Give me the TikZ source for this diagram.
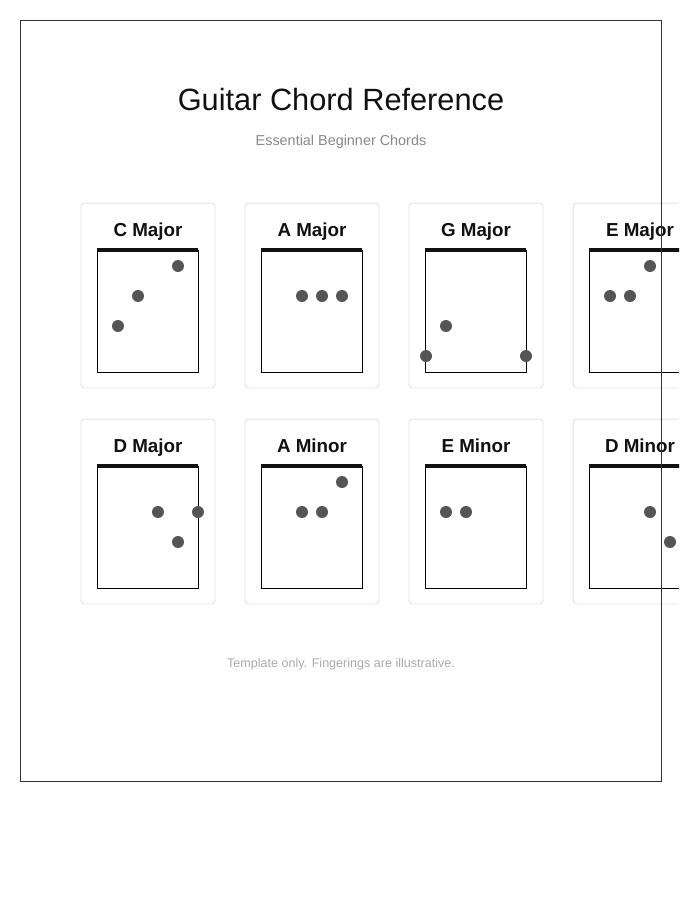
\documentclass[tikz,border=0pt]{standalone}
\usepackage{fontspec}
\setmainfont{Liberation Sans}
\usepackage{xcolor}
\usepackage{tikz}
\usetikzlibrary{shapes,arrows.meta,positioning,calc}

\definecolor{inkdark}{HTML}{111111}
\definecolor{subgray}{HTML}{888888}
\definecolor{footgray}{HTML}{AAAAAA}
\definecolor{cardline}{HTML}{E3E3E3}
\definecolor{dotgray}{HTML}{555555}
\definecolor{framegray}{HTML}{333333}

\begin{document}
\begin{tikzpicture}[
    x=0.02cm, y=-0.02cm,
    pagetitle/.style={anchor=base, text=inkdark, font=\fontsize{17.5}{20}\selectfont},
    subtitle/.style={anchor=base, text=subgray, font=\fontsize{8.2}{10}\selectfont},
    footnote/.style={anchor=base, text=footgray, font=\fontsize{7.15}{9}\selectfont},
    card/.style={rectangle, draw=cardline, fill=white, line width=0.55pt, rounded corners=2pt, minimum width=2.68cm, minimum height=3.7cm, inner sep=0pt, outer sep=0pt},
    chordname/.style={anchor=base, text=inkdark, font=\fontsize{10.7}{12}\selectfont\bfseries},
    board/.style={rectangle, draw=black, fill=white, line width=0.5pt, minimum width=2.02cm, minimum height=2.44cm, inner sep=0pt, outer sep=0pt},
    nut/.style={draw=inkdark, line width=2.3pt},
    dot/.style={circle, fill=dotgray, minimum size=0.24cm, inner sep=0pt}
]
    \useasboundingbox (0,0) rectangle (700,900);
    \clip (0,0) rectangle (679,900);

    \node [pagetitle] (title) at (341,110.5) {Guitar Chord Reference};
    \node [subtitle] (sub) at (341,145) {Essential Beginner Chords};

    % first row
    \node [card] (cmaj) at (148,295.5) {};
    \node [card] (amaj) at (312,295.5) {};
    \node [card] (gmaj) at (476,295.5) {};
    \node [card] (emaj) at (640,295.5) {};
    \node [chordname] (cmaj-name) at (148,236) {C Major};
    \node [chordname] (amaj-name) at (312,236) {A Major};
    \node [chordname] (gmaj-name) at (476,236) {G Major};
    \node [chordname] (emaj-name) at (640,236) {E Major};
    \node [board] (cmaj-board) at (147.5,311) {};
    \node [board] (amaj-board) at (311.5,311) {};
    \node [board] (gmaj-board) at (475.5,311) {};
    \node [board] (emaj-board) at (639.5,311) {};

    % second row
    \node [card] (dmaj) at (148,511.5) {};
    \node [card] (amin) at (312,511.5) {};
    \node [card] (emin) at (476,511.5) {};
    \node [card] (dmin) at (640,511.5) {};
    \node [chordname] (dmaj-name) at (148,452) {D Major};
    \node [chordname] (amin-name) at (312,452) {A Minor};
    \node [chordname] (emin-name) at (476,452) {E Minor};
    \node [chordname] (dmin-name) at (640,452) {D Minor};
    \node [board] (dmaj-board) at (147.5,527) {};
    \node [board] (amin-board) at (311.5,527) {};
    \node [board] (emin-board) at (475.5,527) {};
    \node [board] (dmin-board) at (639.5,527) {};

    % nuts
    \draw [nut] (cmaj-board.north west) -- (cmaj-board.north east);
    \draw [nut] (amaj-board.north west) -- (amaj-board.north east);
    \draw [nut] (gmaj-board.north west) -- (gmaj-board.north east);
    \draw [nut] (emaj-board.north west) -- (emaj-board.north east);
    \draw [nut] (dmaj-board.north west) -- (dmaj-board.north east);
    \draw [nut] (amin-board.north west) -- (amin-board.north east);
    \draw [nut] (emin-board.north west) -- (emin-board.north east);
    \draw [nut] (dmin-board.north west) -- (dmin-board.north east);

    % finger dots
    \node [dot] (cmaj-1) at (178,266) {};
    \node [dot] (cmaj-2) at (138,296) {};
    \node [dot] (cmaj-3) at (118,326) {};
    \node [dot] (amaj-1) at (302,296) {};
    \node [dot] (amaj-2) at (322,296) {};
    \node [dot] (amaj-3) at (342,296) {};
    \node [dot] (gmaj-1) at (446,326) {};
    \node [dot] (gmaj-2) at (426,356) {};
    \node [dot] (gmaj-3) at (526,356) {};
    \node [dot] (emaj-1) at (650,266) {};
    \node [dot] (emaj-2) at (610,296) {};
    \node [dot] (emaj-3) at (630,296) {};
    \node [dot] (dmaj-1) at (158,512) {};
    \node [dot] (dmaj-2) at (198,512) {};
    \node [dot] (dmaj-3) at (178,542) {};
    \node [dot] (amin-1) at (342,482) {};
    \node [dot] (amin-2) at (302,512) {};
    \node [dot] (amin-3) at (322,512) {};
    \node [dot] (emin-1) at (446,512) {};
    \node [dot] (emin-2) at (466,512) {};
    \node [dot] (dmin-1) at (650,512) {};
    \node [dot] (dmin-2) at (670,542) {};

    \node [footnote] (foot) at (341,667) {Template only. Fingerings are illustrative.};

    % page frame
    \draw [draw=framegray, line width=0.5pt] (20,20) rectangle (661,781);
\end{tikzpicture}
\end{document}
